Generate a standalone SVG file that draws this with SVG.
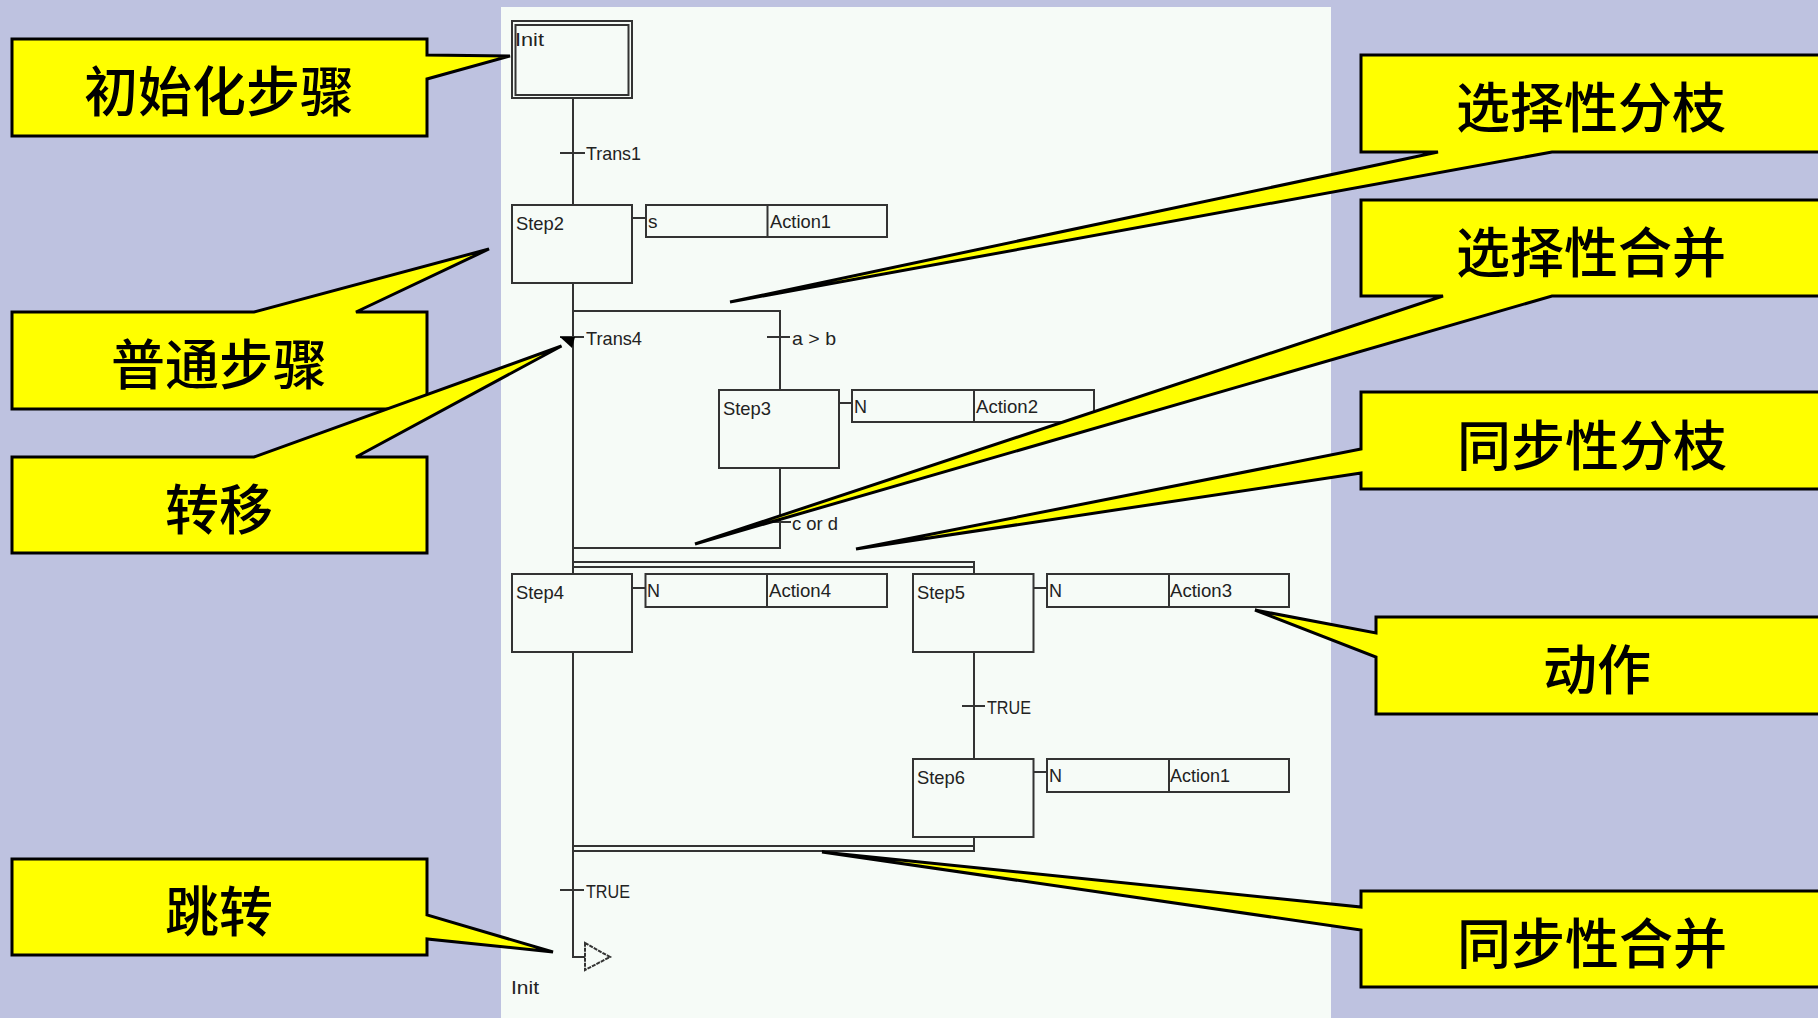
<svg xmlns="http://www.w3.org/2000/svg" width="1818" height="1018" viewBox="0 0 1818 1018">
<style>
.bg{fill:#bec2e0}
.panel{fill:#f6fbf7}
.box{fill:none;stroke:#333;stroke-width:2}
.ln{fill:none;stroke:#333;stroke-width:2}
.t{font-family:"Liberation Sans","DejaVu Sans",sans-serif;font-size:19px;fill:#222}
.co{fill:#ff0;stroke:#000;stroke-width:3;stroke-linejoin:miter;stroke-miterlimit:3}
.ct{font-family:"Noto Sans CJK SC",sans-serif;font-size:54px;font-weight:500;fill:#000;text-anchor:middle}
</style>
<rect class="bg" width="1818" height="1018"/>
<rect class="panel" x="501" y="7" width="830" height="1011"/>
<g id="connectors">
<path class="ln" d="M573 98V205M560 153H585M573 283V574M573 311H780V390M560 337H584M767 337H790M780 468V548H573M767 522H791"/>
<path class="ln" d="M573 562H974V574M573 567H974M974 652V759M962 706H985M573 652V957H585M560 890H584M573 846H974M573 851H974V837"/>
<path class="ln" d="M632 218H646M839 403H852M632 588H645M1033 588H1047M1033 772H1047"/>
<polygon fill="#000" points="560,337 575,337 572,348"/>
</g>
<g id="init"><rect class="box" x="512" y="21" width="120" height="77"/><rect class="box" x="515.500" y="25" width="113" height="70"/><text class="t" x="515" y="46" textLength="29" lengthAdjust="spacingAndGlyphs">Init</text></g>
<g id="trans1"><text class="t" x="586" y="160" textLength="55" lengthAdjust="spacingAndGlyphs">Trans1</text></g>
<g id="step2"><rect class="box" x="512" y="205" width="120" height="78"/><text class="t" x="516" y="230" textLength="48" lengthAdjust="spacingAndGlyphs">Step2</text></g>
<g id="action1a"><rect class="box" x="646" y="205" width="241" height="32"/><path class="ln" d="M767.500 205V237"/><text class="t" x="648" y="228">s</text><text class="t" x="770" y="228" textLength="61" lengthAdjust="spacingAndGlyphs">Action1</text></g>
<g id="trans4"><text class="t" x="586" y="345" textLength="56" lengthAdjust="spacingAndGlyphs">Trans4</text></g>
<g id="trans-ab"><text class="t" x="792" y="345" textLength="44" lengthAdjust="spacingAndGlyphs">a &gt; b</text></g>
<g id="step3"><rect class="box" x="719" y="390" width="120" height="78"/><text class="t" x="723" y="415" textLength="48" lengthAdjust="spacingAndGlyphs">Step3</text></g>
<g id="action2"><rect class="box" x="852" y="390" width="242" height="32"/><path class="ln" d="M974 390V422"/><text class="t" x="854" y="413" textLength="13" lengthAdjust="spacingAndGlyphs">N</text><text class="t" x="976" y="413" textLength="62" lengthAdjust="spacingAndGlyphs">Action2</text></g>
<g id="trans-cd"><text class="t" x="792" y="530" textLength="46" lengthAdjust="spacingAndGlyphs">c or d</text></g>
<g id="step4"><rect class="box" x="512" y="574" width="120" height="78"/><text class="t" x="516" y="599" textLength="48" lengthAdjust="spacingAndGlyphs">Step4</text></g>
<g id="action4"><rect class="box" x="645.500" y="574" width="241.500" height="33"/><path class="ln" d="M767 574V607"/><text class="t" x="647" y="597" textLength="13" lengthAdjust="spacingAndGlyphs">N</text><text class="t" x="769" y="597" textLength="62" lengthAdjust="spacingAndGlyphs">Action4</text></g>
<g id="step5"><rect class="box" x="913" y="574" width="120.500" height="78"/><text class="t" x="917" y="599" textLength="48" lengthAdjust="spacingAndGlyphs">Step5</text></g>
<g id="action3"><rect class="box" x="1047" y="574" width="242" height="33"/><path class="ln" d="M1169 574V607"/><text class="t" x="1049" y="597" textLength="13" lengthAdjust="spacingAndGlyphs">N</text><text class="t" x="1170" y="597" textLength="62" lengthAdjust="spacingAndGlyphs">Action3</text></g>
<g id="trans-true2"><text class="t" x="987" y="714" textLength="44" lengthAdjust="spacingAndGlyphs">TRUE</text></g>
<g id="step6"><rect class="box" x="913" y="759" width="120.500" height="78"/><text class="t" x="917" y="784" textLength="48" lengthAdjust="spacingAndGlyphs">Step6</text></g>
<g id="action1b"><rect class="box" x="1047" y="759" width="242" height="33"/><path class="ln" d="M1169 759V792"/><text class="t" x="1049" y="782" textLength="13" lengthAdjust="spacingAndGlyphs">N</text><text class="t" x="1170" y="782" textLength="60" lengthAdjust="spacingAndGlyphs">Action1</text></g>
<g id="trans-true1"><text class="t" x="586" y="898" textLength="44" lengthAdjust="spacingAndGlyphs">TRUE</text></g>
<g id="jump"><polygon class="box" stroke-dasharray="4 1" points="585,943 610,957 585,970"/><text class="t" x="511" y="994" textLength="28" lengthAdjust="spacingAndGlyphs">Init</text></g>
<g id="callout-init"><polygon class="co" points="12,39 427,39 427,55 510,56 427,79 427,136 12,136"/><text class="ct" x="219" y="112">初始化步骤</text></g>
<g id="callout-step"><polygon class="co" points="12,312 254,312 489,249 356,312 427,312 427,409 12,409"/><text class="ct" x="219" y="385">普通步骤</text></g>
<g id="callout-trans"><polygon class="co" points="12,457 254,457 561.500,346 356,457 427,457 427,553 12,553"/><text class="ct" x="219" y="530">转移</text></g>
<g id="callout-jump"><polygon class="co" points="12,859 427,859 427,915 553,952 427,939 427,955 12,955"/><text class="ct" x="219" y="932">跳转</text></g>
<g id="callout-selbranch"><polygon class="co" points="1361,55 1830,55 1830,152 1552,152 730,302 1438,152 1361,152"/><text class="ct" x="1591" y="128">选择性分枝</text></g>
<g id="callout-selmerge"><polygon class="co" points="1361,200 1830,200 1830,296 1552,296 695,544 1443,296 1361,296"/><text class="ct" x="1591" y="273">选择性合并</text></g>
<g id="callout-syncbranch"><polygon class="co" points="1361,392 1830,392 1830,489 1361,489 1361,473 856,549 1361,449"/><text class="ct" x="1592" y="466">同步性分枝</text></g>
<g id="callout-action"><polygon class="co" points="1376,617 1830,617 1830,714 1376,714 1376,657 1255,610 1376,633"/><text class="ct" x="1597" y="690">动作</text></g>
<g id="callout-syncmerge"><polygon class="co" points="1361,891 1830,891 1830,987 1361,987 1361,930 822,852 1361,907"/><text class="ct" x="1592" y="964">同步性合并</text></g>
</svg>
